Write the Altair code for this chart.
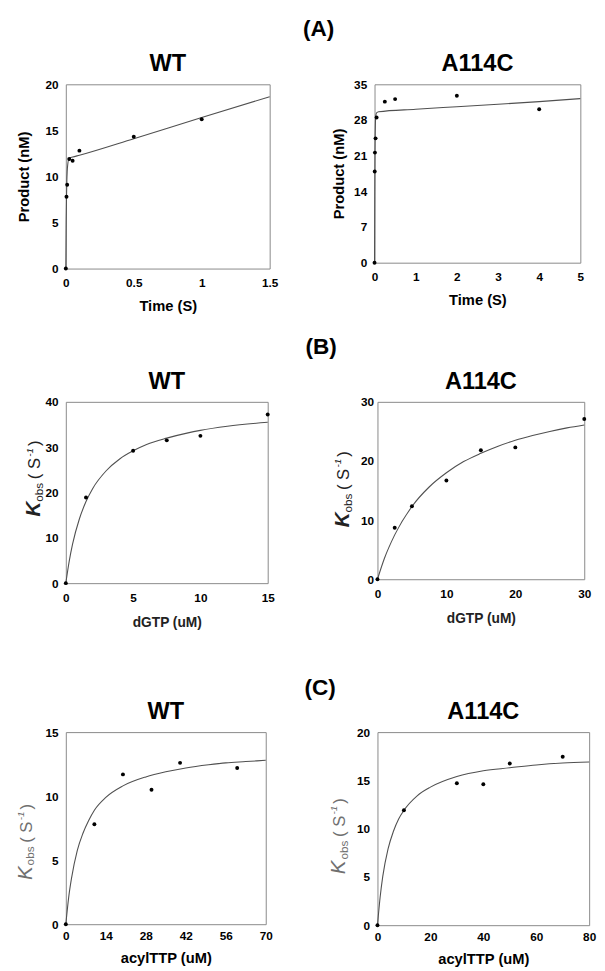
import altair as alt
import pandas as pd

FONT = "Liberation Sans"

# ---------------- data ----------------
# (A) WT: pre-steady-state burst
a_wt_t = [0, 0.005, 0.01, 0.025, 0.05, 0.1, 0.5, 1.0]
a_wt_p = [0, 7.8, 9.1, 11.9, 11.7, 12.8, 14.3, 16.2]
a_wt_fit_t = [0, 0.0025, 0.005, 0.0075, 0.01, 0.015, 0.02, 0.03, 0.05, 0.1, 0.5, 1.0, 1.5]
a_wt_fit_p = [0, 5.0, 7.7, 9.5, 10.5, 11.4, 11.8, 12.0, 12.1, 12.3, 14.1, 16.4, 18.65]

# (A) A114C
a_mu_t = [0, 0.005, 0.01, 0.025, 0.05, 0.25, 0.5, 2.0, 4.0]
a_mu_p = [0, 17.9, 21.6, 24.4, 28.5, 31.6, 32.1, 32.75, 30.1]
a_mu_fit_t = [0, 0.005, 0.01, 0.02, 0.03, 0.05, 0.1, 1, 2, 3, 4, 5]
a_mu_fit_p = [0, 13, 21, 27, 28.8, 29.4, 29.6, 30.1, 30.6, 31.1, 31.6, 32.2]

# (B) WT: kobs vs dGTP
b_wt_x = [0, 1.5, 5, 7.5, 10, 15]
b_wt_y = [0, 18.9, 29.2, 31.5, 32.5, 37.2]
b_wt_fit_x = [0, 0.25, 0.5, 1, 1.5, 2, 3, 4, 5, 6, 7.5, 9, 10, 12, 15]
b_wt_fit_y = [0, 4.8, 8.6, 14.1, 18.0, 20.9, 24.8, 27.4, 29.2, 30.6, 32.0, 33.1, 33.7, 34.6, 35.5]

# (B) A114C
b_mu_x = [0, 2.5, 5, 10, 15, 20, 30]
b_mu_y = [0, 8.7, 12.35, 16.7, 21.8, 22.3, 27.1]
b_mu_fit_x = [0, 1, 2.5, 5, 7.5, 10, 12.5, 15, 17.5, 20, 22.5, 25, 27.5, 30]
b_mu_fit_y = [0, 3.5, 7.5, 12.3, 15.6, 18.0, 19.9, 21.3, 22.5, 23.5, 24.3, 25.0, 25.6, 26.1]

# (C) WT: kobs vs acylTTP
c_wt_x = [0, 10, 20, 30, 40, 60]
c_wt_y = [0, 7.8, 11.7, 10.5, 12.6, 12.2]
c_wt_fit_x = [0, 1, 2, 4, 6, 8, 10, 14, 20, 28, 35, 42, 50, 56, 63, 70]
c_wt_fit_y = [0, 2.1, 3.6, 5.75, 7.1, 8.1, 8.9, 9.9, 10.8, 11.5, 11.9, 12.2, 12.45, 12.6, 12.7, 12.8]

# (C) A114C
c_mu_x = [0, 10, 30, 40, 50, 70]
c_mu_y = [0, 11.9, 14.7, 14.6, 16.75, 17.45]
c_mu_fit_x = [0, 1, 2, 4, 6, 8, 10, 15, 20, 30, 40, 50, 60, 70, 80]
c_mu_fit_y = [0, 2.9, 5.05, 7.9, 9.7, 11.0, 11.9, 13.4, 14.3, 15.4, 16.0, 16.3, 16.6, 16.8, 16.9]

DUMMY = pd.DataFrame({"a": [1]})
LABEL_EXPR = "datum.value + ''"


def ktitle(x0, y0, color, kweight):
    parts = [
        ("K", 21, "italic", kweight, 0, 0),
        ("obs", 12, "normal", "normal", 3, -15),
        ("( S", 17, "normal", "normal", 0, -38),
        ("-1", 10, "italic", "normal", -8, -61),
        (")", 17, "normal", "normal", 0, -72),
    ]
    layers = []
    for txt, fs, style, wt, dx, dy in parts:
        layers.append(
            alt.Chart(DUMMY).mark_text(
                text=txt, font=FONT, fontSize=fs, fontStyle=style, fontWeight=wt,
                color=color, angle=270, align="left", baseline="alphabetic"
            ).encode(x=alt.value(x0 + dx), y=alt.value(y0 + dy))
        )
    return layers


def spacer(xpos):
    return alt.Chart(DUMMY).mark_point(opacity=0, size=1).encode(
        x=alt.value(xpos), y=alt.value(0))


def panel(px, py, fx, fy, title, xdom, xvals, ydom, yvals, xtitle, ytitle,
          w, h, title_off, xlab_pad, xtit_pad, ylab_pad, ytit_pad,
          xtitle_size, xtitle_color, extra, marks):
    pts = pd.DataFrame({"x": px, "y": py})
    fit = pd.DataFrame({"x": fx, "y": fy})
    xax = alt.Axis(values=xvals, tickCount=20, labelExpr=LABEL_EXPR, labelOverlap=False,
                   title=xtitle, labelPadding=xlab_pad, titlePadding=xtit_pad,
                   titleFontSize=xtitle_size, titleColor=xtitle_color)
    if ytitle is None:
        yax = alt.Axis(values=yvals, tickCount=20, labelExpr=LABEL_EXPR, labelOverlap=False,
                       title=None, labelPadding=ylab_pad)
    else:
        yax = alt.Axis(values=yvals, tickCount=20, labelExpr=LABEL_EXPR, labelOverlap=False,
                       title=ytitle, labelPadding=ylab_pad, titlePadding=ytit_pad)
    xs = alt.Scale(domain=xdom, nice=False, zero=False)
    ys = alt.Scale(domain=ydom, nice=False, zero=False)
    line = alt.Chart(fit).mark_line(color="#505050", strokeWidth=1.1,
                                    interpolate="monotone").encode(
        x=alt.X("x:Q", scale=xs, axis=xax), y=alt.Y("y:Q", scale=ys, axis=yax))
    dots = alt.Chart(pts).mark_circle(size=16, color="black", opacity=1).encode(
        x=alt.X("x:Q", scale=xs), y=alt.Y("y:Q", scale=ys))
    layers = [line, dots] + extra + [spacer(m) for m in marks]
    return alt.layer(*layers).properties(
        width=w, height=h,
        title=alt.TitleParams(title, fontSize=24, offset=title_off, anchor="middle"))


# ---------- Row A ----------
pA1 = panel(a_wt_t, a_wt_p, a_wt_fit_t, a_wt_fit_p, "WT", [0, 1.5], [0, 0.5, 1, 1.5],
            [0, 20], [0, 5, 10, 15, 20], "Time (S)", "Product (nM)",
            208, 188, 3, 9, 11, 8, 14, 15, "black", [], [-52, 228])
pA2 = panel(a_mu_t, a_mu_p, a_mu_fit_t, a_mu_fit_p, "A114C", [0, 5], [0, 1, 2, 3, 4, 5],
            [0, 35], [0, 7, 14, 21, 28, 35], "Time (S)", "Product (nM)",
            210, 182, 3, 9, 11, 8, 7, 15, "black", [], [-55])

# ---------- Row B ----------
pB1 = panel(b_wt_x, b_wt_y, b_wt_fit_x, b_wt_fit_y, "WT", [0, 15], [0, 5, 10, 15],
            [0, 40], [0, 10, 20, 30, 40], "dGTP (uM)", None,
            206, 185, 2, 10, 12, 8, 0, 14, "#222222",
            ktitle(-26, 117, "#222222", "bold"), [-56, 224])
pB2 = panel(b_mu_x, b_mu_y, b_mu_fit_x, b_mu_fit_y, "A114C", [0, 30], [0, 10, 20, 30],
            [0, 30], [0, 10, 20, 30], "dGTP (uM)", None,
            211, 181, 2, 10, 12, 4, 0, 14, "#222222",
            ktitle(-29, 128, "#222222", "bold"), [-62])

# ---------- Row C ----------
pC1 = panel(c_wt_x, c_wt_y, c_wt_fit_x, c_wt_fit_y, "WT", [0, 70], [0, 14, 28, 42, 56, 70],
            [0, 15], [0, 5, 10, 15], "acylTTP (uM)", None,
            204, 196, 2, 7, 9, 8, 0, 15, "black",
            ktitle(-35, 151, "#707070", "normal"), [-55, 225])
pC2 = panel(c_mu_x, c_mu_y, c_mu_fit_x, c_mu_fit_y, "A114C", [0, 80], [0, 20, 40, 60, 80],
            [0, 20], [0, 5, 10, 15, 20], "acylTTP (uM)", None,
            216, 197, 2, 7, 9, 8, 0, 15, "black",
            ktitle(-33, 145, "#707070", "normal"), [-61])


def row(a, b, label, off, dx):
    return alt.hconcat(a, b, spacing=30).properties(
        title=alt.TitleParams(label, fontSize=23, offset=off, anchor="middle", dx=dx))


rowA = row(pA1, pA2, "(A)", 11, 20)
rowB = row(pB1, pB2, "(B)", 11, 21)
rowC = row(pC1, pC2, "(C)", 0, 17)

chart = alt.vconcat(
    alt.vconcat(rowA, rowB, spacing=22),
    rowC, spacing=48
).properties(
    padding={"left": 2, "top": 0, "right": 0, "bottom": 0}
).configure(
    font=FONT
).configure_view(
    stroke="#888888", strokeWidth=1
).configure_axis(
    domain=False, ticks=False, tickSize=0, grid=False,
    labelFont=FONT, labelFontSize=12, labelFontWeight="bold", labelColor="black",
    labelFlush=False,
    titleFont=FONT, titleFontSize=15, titleFontWeight="bold", titleColor="black"
).configure_title(
    font=FONT, fontWeight="bold", color="black"
)

chart.save("out.html", embed_options={"renderer": "svg", "actions": False})
